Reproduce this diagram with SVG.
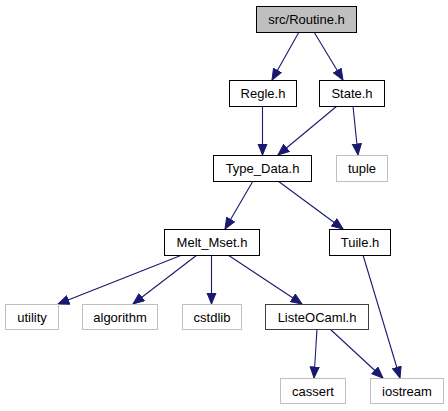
<svg xmlns="http://www.w3.org/2000/svg" width="448" height="411" viewBox="0 0 448 411">
<style>
.n rect{fill:#fff;stroke:#000;stroke-width:1}
.n.root rect{fill:#bfbfbf}
.n.sys rect{stroke:#bfbfbf}
.n.lst rect{stroke:#404040}
text{font-family:"Liberation Sans",Arial,sans-serif;font-size:13px;text-anchor:middle;fill:#000}
.e path{fill:none;stroke:#191970;stroke-width:1.1}
</style>
<defs>
<marker id="ah" markerUnits="userSpaceOnUse" markerWidth="13" markerHeight="11" refX="11.5" refY="5" orient="auto" viewBox="0 0 13 11">
<path d="M0.5,0.5 L11.5,5 L0.5,9.5 z" fill="#191970" stroke="#191970" stroke-width="1"/>
</marker>
</defs>
<rect width="448" height="411" fill="#fff"/>
<g id="edges" class="e">
<path d="M299,32 L272,80" marker-end="url(#ah)"/>
<path d="M314,32 L343,80" marker-end="url(#ah)"/>
<path d="M262.5,106 L262.5,155" marker-end="url(#ah)"/>
<path d="M337,106 L278,155" marker-end="url(#ah)"/>
<path d="M353,106 L358,155" marker-end="url(#ah)"/>
<path d="M253,181 L225,229" marker-end="url(#ah)"/>
<path d="M278,181 L343,229" marker-end="url(#ah)"/>
<path d="M182,255 L58,304" marker-end="url(#ah)"/>
<path d="M197,255 L133,304" marker-end="url(#ah)"/>
<path d="M211.5,255 L211.5,304" marker-end="url(#ah)"/>
<path d="M228,255 L302,304" marker-end="url(#ah)"/>
<path d="M363,255 L400,378" marker-end="url(#ah)"/>
<path d="M317,329 L314,378" marker-end="url(#ah)"/>
<path d="M330,329 L383,378" marker-end="url(#ah)"/>
</g>
<g id="routine" class="n root"><rect x="256.5" y="6.5" width="100" height="26"/><text x="306.5" y="24">src/Routine.h</text></g>
<g id="regle" class="n"><rect x="229.5" y="80.5" width="67" height="26"/><text x="263" y="98">Regle.h</text></g>
<g id="state" class="n"><rect x="319.5" y="80.5" width="65" height="26"/><text x="352" y="98">State.h</text></g>
<g id="typedata" class="n"><rect x="213.5" y="155.5" width="98" height="26"/><text x="262.5" y="173">Type_Data.h</text></g>
<g id="tuple" class="n sys"><rect x="336.5" y="155.5" width="51" height="26"/><text x="362" y="173">tuple</text></g>
<g id="meltmset" class="n"><rect x="164.5" y="229.5" width="95" height="26"/><text x="212" y="247">Melt_Mset.h</text></g>
<g id="tuile" class="n"><rect x="329.5" y="229.5" width="61" height="26"/><text x="360" y="247">Tuile.h</text></g>
<g id="utility" class="n sys"><rect x="5.5" y="304.5" width="53" height="25"/><text x="32" y="322">utility</text></g>
<g id="algorithm" class="n sys"><rect x="82.5" y="304.5" width="75" height="25"/><text x="120" y="322">algorithm</text></g>
<g id="cstdlib" class="n sys"><rect x="182.5" y="304.5" width="59" height="25"/><text x="212" y="322">cstdlib</text></g>
<g id="listeocaml" class="n lst"><rect x="265.5" y="304.5" width="103" height="25"/><text x="317" y="322">ListeOCaml.h</text></g>
<g id="cassert" class="n sys"><rect x="280.5" y="378.5" width="65" height="25"/><text x="313" y="396">cassert</text></g>
<g id="iostream" class="n sys"><rect x="370.5" y="378.5" width="73" height="25"/><text x="407" y="396">iostream</text></g>
</svg>
